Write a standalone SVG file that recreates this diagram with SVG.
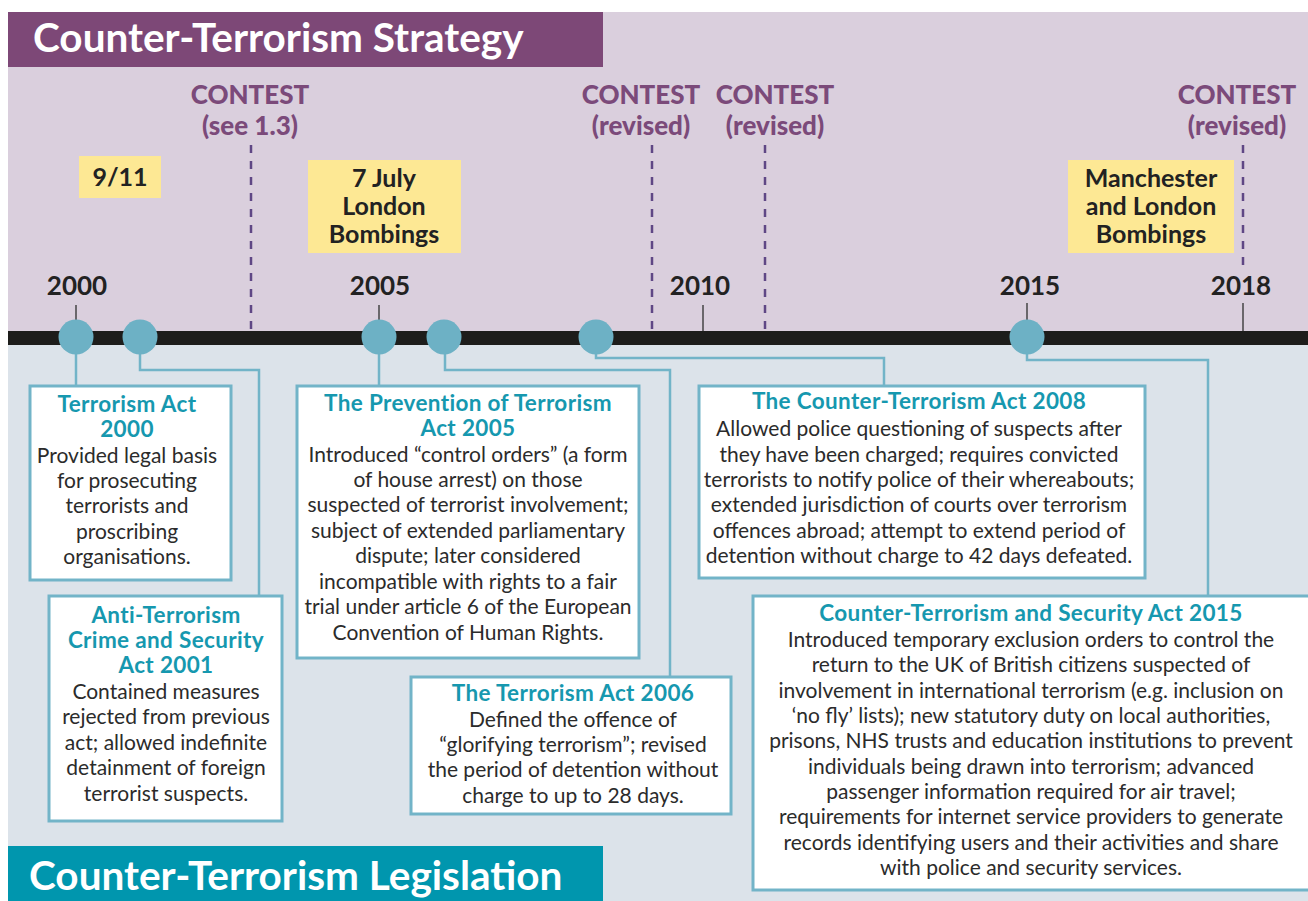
<svg xmlns="http://www.w3.org/2000/svg" width="1308" height="901" viewBox="0 0 1308 901">
<defs>
<style>
.hdr{font-family:Lato,"Noto Sans",sans-serif;font-weight:700;font-size:40.5px;fill:#fff}
.yr{font-family:Lato,"Noto Sans",sans-serif;font-weight:700;font-size:26px;fill:#222;text-anchor:middle}
.ct{font-family:Lato,"Noto Sans",sans-serif;font-weight:900;font-size:26px;fill:#7b4a7a;text-anchor:middle}
.ev{font-family:Lato,"Noto Sans",sans-serif;font-weight:700;font-size:25px;fill:#222;text-anchor:middle}
.yb{fill:#fde894}
.dash{stroke:#5f4785;stroke-width:2.5;stroke-dasharray:8 8;fill:none}
.tick{stroke:#444;stroke-width:1.5}
.dot{fill:#6db1c5}
.box{fill:#fff;stroke:#72b4c8;stroke-width:3}
.con{fill:none;stroke:#72b4c8;stroke-width:2.5}
.tt{font-family:Lato,"Noto Sans",sans-serif;font-weight:700;font-size:22.5px;letter-spacing:0.35px;fill:#1698af;text-anchor:middle}
.bd{font-family:Lato,"Noto Sans",sans-serif;font-size:21px;fill:#2b2b2b;text-anchor:middle}
</style>
</defs>
<rect x="0" y="0" width="1308" height="901" fill="#fff"/>
<rect x="8" y="12" width="1300" height="320" fill="#dacfdd"/>
<rect x="8" y="344" width="1300" height="557" fill="#dce3ea"/>
<rect x="8" y="331" width="1300" height="14" fill="#1d1d1b"/>

<g id="header-strategy">
<rect x="8" y="12" width="595" height="55" fill="#7d4877"/>
<text class="hdr" x="33" y="52">Counter-Terrorism Strategy</text>
</g>
<g id="header-legislation">
<rect x="8" y="846" width="595" height="55" fill="#0096ae"/>
<text class="hdr" x="29" y="890">Counter-Terrorism Legislation</text>
</g>

<g id="contest-lines">
<line class="dash" x1="251" y1="145" x2="251" y2="331"/>
<line class="dash" x1="652" y1="145" x2="652" y2="331"/>
<line class="dash" x1="765" y1="145" x2="765" y2="331"/>
<line class="dash" x1="1243" y1="145" x2="1243" y2="268"/>
</g>

<g id="contest-2003">
<text class="ct" x="250" y="104">CONTEST</text>
<text class="ct" x="250" y="135">(see 1.3)</text>
</g>
<g id="contest-2009">
<text class="ct" x="641" y="104">CONTEST</text>
<text class="ct" x="641" y="135">(revised)</text>
</g>
<g id="contest-2011">
<text class="ct" x="775" y="104">CONTEST</text>
<text class="ct" x="775" y="135">(revised)</text>
</g>
<g id="contest-2018">
<text class="ct" x="1237" y="104">CONTEST</text>
<text class="ct" x="1237" y="135">(revised)</text>
</g>

<g id="event-911">
<rect class="yb" x="79" y="156" width="82" height="42"/>
<text class="ev" x="120" y="186">9/11</text>
</g>
<g id="event-7july">
<rect class="yb" x="308" y="160" width="153" height="93"/>
<text class="ev" x="384" y="187">7 July</text>
<text class="ev" x="384" y="215">London</text>
<text class="ev" x="384" y="243">Bombings</text>
</g>
<g id="event-manchester">
<rect class="yb" x="1068" y="160" width="166" height="93"/>
<text class="ev" x="1151" y="187">Manchester</text>
<text class="ev" x="1151" y="215">and London</text>
<text class="ev" x="1151" y="243">Bombings</text>
</g>

<g id="years">
<line class="tick" x1="76" y1="305" x2="76" y2="331"/>
<line class="tick" x1="379" y1="305" x2="379" y2="331"/>
<line class="tick" x1="703" y1="305" x2="703" y2="331"/>
<line class="tick" x1="1027" y1="303" x2="1027" y2="331"/>
<line class="tick" x1="1243" y1="303" x2="1243" y2="331"/>
<text class="yr" x="77" y="295">2000</text>
<text class="yr" x="380" y="295">2005</text>
<text class="yr" x="700" y="295">2010</text>
<text class="yr" x="1030" y="295">2015</text>
<text class="yr" x="1241" y="295">2018</text>
</g>

<g id="connectors">
<polyline class="con" points="76,337 76,386"/>
<polyline class="con" points="140,337 140,370 259,370 259,596"/>
<polyline class="con" points="379,337 379,386"/>
<polyline class="con" points="445,337 445,370 670,370 670,677"/>
<polyline class="con" points="596,337 596,358 884,358 884,386"/>
<polyline class="con" points="1027,337 1027,360 1208,360 1208,596"/>
</g>

<g id="dots">
<circle class="dot" cx="76" cy="337" r="17.5"/>
<circle class="dot" cx="140" cy="337" r="17.5"/>
<circle class="dot" cx="379" cy="337" r="17.5"/>
<circle class="dot" cx="444" cy="337" r="17.5"/>
<circle class="dot" cx="596" cy="337" r="17.5"/>
<circle class="dot" cx="1027" cy="337" r="17.5"/>
</g>

<g id="act-2000">
<rect class="box" x="30" y="386" width="201" height="194"/>
<text class="tt" x="127" y="412">Terrorism Act</text>
<text class="tt" x="127" y="437">2000</text>
<text class="bd" x="127" y="463">Provided legal basis</text>
<text class="bd" x="127" y="488">for prosecuting</text>
<text class="bd" x="127" y="513">terrorists and</text>
<text class="bd" x="127" y="539">proscribing</text>
<text class="bd" x="127" y="564">organisations.</text>
</g>

<g id="act-2001">
<rect class="box" x="49" y="596" width="233" height="225"/>
<text class="tt" x="166" y="623">Anti-Terrorism</text>
<text class="tt" x="166" y="648">Crime and Security</text>
<text class="tt" x="166" y="673">Act 2001</text>
<text class="bd" x="166" y="699">Contained measures</text>
<text class="bd" x="166" y="724">rejected from previous</text>
<text class="bd" x="166" y="750">act; allowed indefinite</text>
<text class="bd" x="166" y="775">detainment of foreign</text>
<text class="bd" x="166" y="801">terrorist suspects.</text>
</g>

<g id="act-2005">
<rect class="box" x="297" y="386" width="342" height="272"/>
<text class="tt" x="468" y="411">The Prevention of Terrorism</text>
<text class="tt" x="468" y="436">Act 2005</text>
<text class="bd" x="468" y="462">Introduced “control orders” (a form</text>
<text class="bd" x="468" y="487">of house arrest) on those</text>
<text class="bd" x="468" y="512">suspected of terrorist involvement;</text>
<text class="bd" x="468" y="538">subject of extended parliamentary</text>
<text class="bd" x="468" y="563">dispute; later considered</text>
<text class="bd" x="468" y="589">incompatible with rights to a fair</text>
<text class="bd" x="468" y="614">trial under article 6 of the European</text>
<text class="bd" x="468" y="640">Convention of Human Rights.</text>
</g>

<g id="act-2006">
<rect class="box" x="411" y="677" width="320" height="137"/>
<text class="tt" x="573" y="701">The Terrorism Act 2006</text>
<text class="bd" x="573" y="727">Defined the offence of</text>
<text class="bd" x="573" y="752">“glorifying terrorism”; revised</text>
<text class="bd" x="573" y="777">the period of detention without</text>
<text class="bd" x="573" y="803">charge to up to 28 days.</text>
</g>

<g id="act-2008">
<rect class="box" x="699" y="386" width="446" height="192"/>
<text class="tt" x="919" y="409">The Counter-Terrorism Act 2008</text>
<text class="bd" x="919" y="436">Allowed police questioning of suspects after</text>
<text class="bd" x="919" y="462">they have  been charged; requires convicted</text>
<text class="bd" x="919" y="487">terrorists to notify police of their whereabouts;</text>
<text class="bd" x="919" y="512">extended jurisdiction of courts over terrorism</text>
<text class="bd" x="919" y="538">offences abroad; attempt to extend period of</text>
<text class="bd" x="919" y="563">detention without charge to 42 days defeated.</text>
</g>

<g id="act-2015">
<rect class="box" x="753" y="596" width="570" height="294"/>
<text class="tt" x="1031" y="621">Counter-Terrorism and Security Act 2015</text>
<text class="bd" x="1031" y="647">Introduced temporary exclusion orders to control the</text>
<text class="bd" x="1031" y="672">return to the UK of British citizens suspected of</text>
<text class="bd" x="1031" y="698">involvement in international terrorism (e.g. inclusion on</text>
<text class="bd" x="1031" y="723">‘no fly’ lists); new statutory duty on local authorities,</text>
<text class="bd" x="1031" y="748">prisons, NHS trusts and education institutions to prevent</text>
<text class="bd" x="1031" y="774">individuals being drawn into terrorism; advanced</text>
<text class="bd" x="1031" y="799">passenger information required for air travel;</text>
<text class="bd" x="1031" y="824">requirements for internet service providers to generate</text>
<text class="bd" x="1031" y="850">records identifying users and their activities and share</text>
<text class="bd" x="1031" y="875">with police and security services.</text>
</g>
</svg>
